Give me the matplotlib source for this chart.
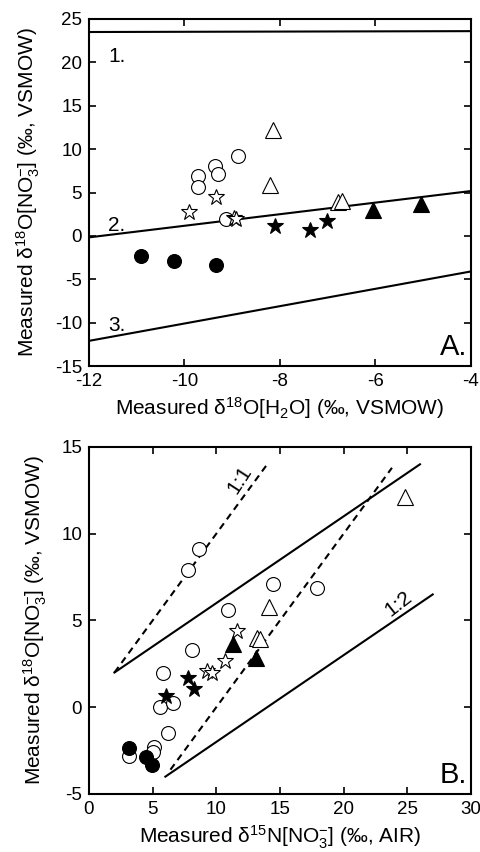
import matplotlib
matplotlib.use('Agg')
import matplotlib.pyplot as plt

plt.rcParams['font.family'] = ['Liberation Sans', 'DejaVu Sans']
plt.rcParams['mathtext.fontset'] = 'custom'
plt.rcParams['mathtext.rm'] = 'Liberation Sans'
plt.rcParams['mathtext.it'] = 'Liberation Sans:italic'
plt.rcParams['mathtext.default'] = 'regular'
plt.rcParams['axes.unicode_minus'] = False

# ---- panel A: d18O[NO3] vs d18O[H2O]
a_ocirc_x = [-9.72, -9.72, -9.36, -9.29, -8.87, -9.12]
a_ocirc_y = [6.93, 5.59, 8.0, 7.16, 9.2, 2.0]
a_fcirc_x = [-10.90, -10.22, -9.34]
a_fcirc_y = [-2.37, -2.87, -3.37]
a_ostar_x = [-9.90, -9.33, -8.97, -8.92]
a_ostar_y = [2.7, 4.43, 2.1, 1.95]
a_fstar_x = [-8.10, -7.36, -7.02]
a_fstar_y = [1.12, 0.66, 1.66]
a_otri_x = [-8.15, -8.20, -6.78, -6.71]
a_otri_y = [12.2, 5.85, 3.9, 4.0]
a_ftri_x = [-6.06, -5.04]
a_ftri_y = [2.97, 3.66]

# reference lines 1., 2., 3.
a_line_x = [-12, -4]
a_line1_y = [23.5, 23.6]
a_line2_y = [-0.17, 5.17]
a_line3_y = [-12.1, -4.1]

# ---- panel B: d18O[NO3] vs d15N[NO3]
b_ocirc_x = [8.62, 7.75, 14.48, 17.88, 10.89, 8.10, 5.85, 5.58, 6.63, 6.20, 5.13, 5.06, 3.13]
b_ocirc_y = [9.12, 7.90, 7.10, 6.89, 5.60, 3.27, 1.95, 0.0, 0.23, -1.47, -2.27, -2.56, -2.83]
b_fcirc_x = [3.15, 4.45, 4.92]
b_fcirc_y = [-2.37, -2.88, -3.35]
b_ostar_x = [11.62, 10.70, 9.24, 9.70]
b_ostar_y = [4.38, 2.67, 2.10, 2.00]
b_fstar_x = [7.75, 8.27, 6.05]
b_fstar_y = [1.67, 1.07, 0.65]
b_otri_x = [24.82, 14.17, 13.22, 13.43]
b_otri_y = [12.1, 5.8, 3.97, 3.93]
b_ftri_x = [11.29, 13.09]
b_ftri_y = [3.65, 2.85]

b_dash1_x, b_dash1_y = [2, 14], [2, 14]
b_solid1_x, b_solid1_y = [2, 26], [2, 14]
b_dash2_x, b_dash2_y = [6.4, 23.8], [-3.6, 13.8]
b_solid2_x, b_solid2_y = [6, 27], [-4, 6.5]

fig = plt.figure(figsize=(4.81, 8.52), dpi=100)
axA = fig.add_axes([0.185, 0.5704, 0.794, 0.4073])
axB = fig.add_axes([0.185, 0.0681, 0.794, 0.4073])

LW = 1.5
ms_c, ms_s, ms_t = 10, 12, 11
FS_LAB = 15
FS_TICK = 13.5


def points(ax, oc, fc, os_, fs, ot, ft):
    kw = dict(ls='none', mec='black', mew=0.8, zorder=3)
    ax.plot(*oc, marker='o', ms=ms_c, mfc='white', **kw)
    ax.plot(*fc, marker='o', ms=ms_c, mfc='black', **kw)
    ax.plot(*os_, marker='*', ms=ms_s, mfc='white', **kw)
    ax.plot(*fs, marker='*', ms=ms_s, mfc='black', **kw)
    ax.plot(*ot, marker='^', ms=ms_t, mfc='white', **kw)
    ax.plot(*ft, marker='^', ms=ms_t, mfc='black', **kw)


def style(ax):
    ax.tick_params(direction='in', top=True, right=True, length=5, width=1.2,
                   labelsize=FS_TICK, pad=5)
    for s in ax.spines.values():
        s.set_linewidth(1.5)


# panel A
axA.plot(a_line_x, a_line1_y, color='black', lw=LW)
axA.plot(a_line_x, a_line2_y, color='black', lw=LW)
axA.plot(a_line_x, a_line3_y, color='black', lw=LW)
points(axA, (a_ocirc_x, a_ocirc_y), (a_fcirc_x, a_fcirc_y), (a_ostar_x, a_ostar_y),
       (a_fstar_x, a_fstar_y), (a_otri_x, a_otri_y), (a_ftri_x, a_ftri_y))
axA.text(-11.6, 20.1, '1.', fontsize=15)
axA.text(-11.6, 0.6, '2.', fontsize=15)
axA.text(-11.6, -11.0, '3.', fontsize=15)
axA.text(0.99, 0.015, 'A.', transform=axA.transAxes, ha='right', va='bottom', fontsize=21)
axA.set_xlim(-12, -4)
axA.set_ylim(-15, 25)
axA.set_xticks([-12, -10, -8, -6, -4])
axA.set_yticks(range(-15, 26, 5))
axA.set_xlabel(r'Measured $\delta^{18}$O[H$_2$O] (‰, VSMOW)', fontsize=FS_LAB, labelpad=4)
axA.set_ylabel(r'Measured $\delta^{18}$O[NO$_3^{-}$] (‰, VSMOW)', fontsize=FS_LAB, labelpad=9)
style(axA)

# panel B
dash = (0, (3.3, 2.4))
axB.plot(b_dash1_x, b_dash1_y, color='black', lw=LW, ls=dash)
axB.plot(b_solid1_x, b_solid1_y, color='black', lw=LW)
axB.plot(b_dash2_x, b_dash2_y, color='black', lw=LW, ls=dash)
axB.plot(b_solid2_x, b_solid2_y, color='black', lw=LW)
points(axB, (b_ocirc_x, b_ocirc_y), (b_fcirc_x, b_fcirc_y), (b_ostar_x, b_ostar_y),
       (b_fstar_x, b_fstar_y), (b_otri_x, b_otri_y), (b_ftri_x, b_ftri_y))
axB.text(11.8, 13.1, '1:1', fontsize=15, rotation=57, ha='center', va='center')
axB.text(24.3, 5.95, '1:2', fontsize=15, rotation=38, ha='center', va='center')
axB.text(0.99, 0.015, 'B.', transform=axB.transAxes, ha='right', va='bottom', fontsize=21)
axB.set_xlim(0, 30)
axB.set_ylim(-5, 15)
axB.set_xticks(range(0, 31, 5))
axB.set_yticks(range(-5, 16, 5))
axB.set_xlabel(r'Measured $\delta^{15}$N[NO$_3^{-}$] (‰, AIR)', fontsize=FS_LAB, labelpad=4)
axB.set_ylabel(r'Measured $\delta^{18}$O[NO$_3^{-}$] (‰, VSMOW)', fontsize=FS_LAB, labelpad=9)
style(axB)

fig.savefig('out.png', dpi=100)
